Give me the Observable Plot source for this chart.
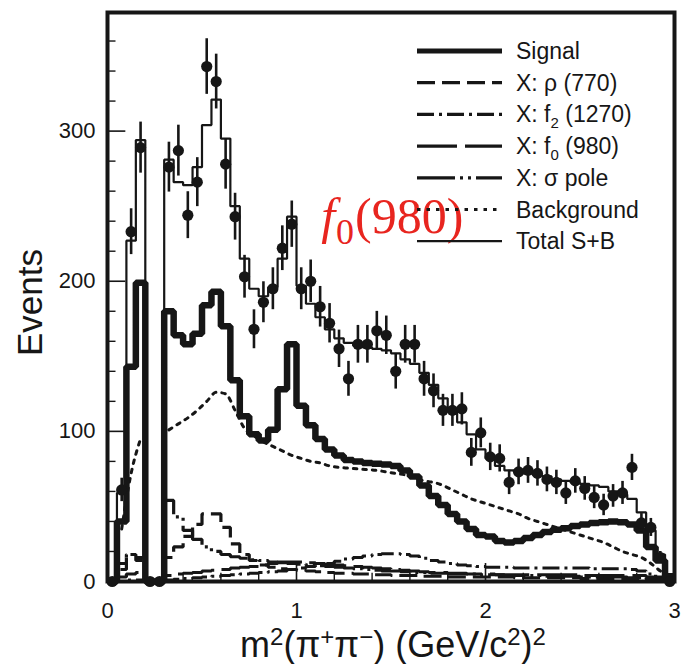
<!DOCTYPE html>
<html>
<head>
<meta charset="utf-8">
<script src="https://cdn.jsdelivr.net/npm/d3@7"></script>
<script src="https://cdn.jsdelivr.net/npm/@observablehq/plot@0.6"></script>
<style>
  html, body { margin: 0; padding: 0; background: #fff; }
</style>
</head>
<body>
<div id="chart"></div>
<script>
// m²(π+π−) histogram: 60 bins of 0.05 GeV² from 0 to 3
const binWidth = 0.05;
const nBins = 60;

// Observed events per bin
const events = [
  0, 61, 233, 289, 0, 0, 276, 287, 244, 266,
  343, 333, 278, 243, 203, 168, 186, 195, 222, 238,
  195, 200, 183, 172, 155, 135, 158, 158, 167, 164,
  140, 158, 158, 135, 127, 114, 114, 115, 86, 99,
  83, 82, 66, 73, 74, 72, 68, 66, 59, 67,
  62, 56, 51, 57, 59, 76, 39, 36, 16, 0
];

// Fit: total signal + background
const total = [
  0, 59, 227, 294, 0, 0, 281, 266, 264, 276,
  304, 321, 295, 250, 215, 195, 190, 196, 215, 243,
  197, 185, 176, 168, 162, 159, 157, 156, 155, 154,
  152, 148, 145, 139, 131, 122, 114, 106, 98, 88,
  82, 77, 74, 73, 72, 71, 70, 68, 67, 66,
  65, 64, 63, 60, 58, 55, 46, 34, 18, 5
];

// Fit: signal
const signal = [
  0, 40, 143, 199, 0, 0, 180, 164, 158, 165,
  184, 193, 170, 134, 110, 98, 94, 101, 128, 158,
  117, 104, 95, 88, 84, 81, 80, 79, 78.5, 78,
  77, 74, 70, 64, 57, 51, 45, 40, 35, 31,
  30, 27, 26, 27, 29, 31, 33, 34.5, 35.5, 37,
  38, 39, 39.5, 40, 39.5, 38, 34, 23, 14, 3
];

// Fit: background (smooth curve, gaps where there is no acceptance)
const background = [
  null, 35, 72, 95, null, null, 101, 105, 109, 114,
  120, 126, 125, 114, 102, 97, 93, 90, 87, 84,
  82, 80, 79, 77, 76, 75.5, 75, 74.5, 74, 73,
  72, 71, 69, 67, 66, 64, 61, 58, 55, 53,
  51, 49, 47, 45, 42, 40, 38, 36, 34, 32,
  30, 28, 26, 23, 20, 18, 16, 12, 7, 3
];

// Signal components
const rho770 = [
  0, 8, 18, 14, 0, 0, 16, 23, 30, 38,
  45, 45, 36, 25, 18, 14, 11, 9.5, 8.5, 8,
  7.5, 7, 6.5, 6, 5.5, 5.5, 5, 5, 4.5, 4.5,
  4, 4, 4, 3.5, 3.5, 3.5, 3, 3, 3, 3,
  3, 3, 3, 2.5, 2.5, 2.5, 2.5, 2.5, 2.5, 2.5,
  2, 2, 2, 2, 2, 2, 2, 1.5, 1, 0.5
];
const f21270 = [
  0, 0, 1, 1, 0, 0, 1, 1.5, 2, 2.5,
  3, 3.5, 4, 4.5, 5, 5.5, 6, 6.5, 7, 8,
  9, 10, 11, 12, 13.5, 15, 16, 17, 18, 18.5,
  18.5, 18, 17, 15.5, 14, 13, 12, 11, 10.5, 10,
  9.5, 9.5, 9.5, 9, 9, 9, 9, 9, 9, 9,
  9, 8.5, 8.5, 8.5, 8.5, 8, 7, 5, 3, 1
];
const f0980 = [
  0, 3, 5, 6, 0, 0, 4, 5, 5.5, 6,
  7, 7.5, 8, 9, 9.5, 10, 11, 12, 13, 13,
  13, 12.5, 12, 11.5, 11, 10.5, 10, 9.5, 9, 8.5,
  8, 7.5, 7, 6.5, 6, 6, 5.5, 5.5, 5, 5,
  5, 4.5, 4.5, 4.5, 4.5, 4.5, 4.5, 4.5, 4.5, 4.5,
  4, 4, 4, 4, 4, 4, 4, 3, 2, 1
];
const sigmaPole = [
  0, 12, 18, 16, 0, 0, 54, 43, 34, 28,
  23, 20, 18, 16.5, 15.5, 14.5, 14, 13, 12.5, 12,
  11.5, 11, 10.5, 10, 9.5, 9, 8.5, 8, 7.5, 7,
  7, 6.5, 6, 6, 5.5, 5.5, 5, 5, 5, 4.5,
  4.5, 4.5, 4, 4, 4, 4, 3.5, 3.5, 3.5, 3.5,
  3, 3, 3, 3, 3, 2.5, 2.5, 2, 1.5, 1
];

// Axis ticks
const yMajor = [100, 200, 300];
const yMinor = [20, 40, 60, 80, 120, 140, 160, 180, 220, 240, 260, 280, 320, 340, 360];
const yLabels = [0, 100, 200, 300];
const xMajor = [1, 2];
const xMinor = [0.2, 0.4, 0.6, 0.8, 1.2, 1.4, 1.6, 1.8, 2.2, 2.4, 2.6, 2.8];
const xLabels = [0, 1, 2, 3];

const ink = "#161616";
const red = "#e8251f";
const sans = "'Liberation Sans', Arial, Helvetica, sans-serif";
const serif = "'Liberation Serif', 'Times New Roman', serif";

// Line styles shared by the plot and its legend
const styles = {
  signal:     {strokeWidth: 6.5, dash: null},
  rho:        {strokeWidth: 3.2, dash: "18,7"},
  f2:         {strokeWidth: 3.2, dash: "17,5,3,5"},
  f0:         {strokeWidth: 3.2, dash: "40,8"},
  sigma:      {strokeWidth: 3.2, dash: "38,5,3,5,3,5"},
  background: {strokeWidth: 3,   dash: "3.5,6"},
  total:      {strokeWidth: 2.2, dash: null}
};

// Turn per-bin values into the corners of a step outline
function steps(vals) {
  const pts = [];
  vals.forEach((v, i) => {
    const lo = i * binWidth, hi = (i + 1) * binWidth;
    pts.push({x: lo, y: v ?? 0}, {x: hi, y: v ?? 0});
  });
  return pts;
}
const centers = d3.range(nBins).map(i => (i + 0.5) * binWidth);
const bgPoints = centers.map((c, i) => ({x: c, y: background[i]}));
const points = centers.map((c, i) => ({x: c, n: events[i], err: Math.sqrt(events[i])}));

function stepLine(vals, s) {
  return Plot.line(steps(vals), {
    x: "x", y: "y", stroke: ink, strokeWidth: s.strokeWidth,
    strokeDasharray: s.dash ?? undefined, strokeLinejoin: "miter", strokeLinecap: "butt"
  });
}

// Red label for the f0(980) peak
function f0Label(index, {x, y}) {
  const g = d3.create("svg:g");
  const t = g.append("text")
    .attr("x", x(1.133)).attr("y", y(232)).attr("text-anchor", "start")
    .attr("fill", red).attr("font-family", serif).attr("font-size", 50);
  t.append("tspan").attr("font-style", "italic").text("f");
  t.append("tspan").attr("font-size", 36).attr("dy", 11).attr("dx", 1).text("0");
  t.append("tspan").attr("dy", -11).attr("dx", 1).text("(980)");
  return g.node();
}

// Legend in the upper right of the frame
const legendRows = [
  {key: "signal", parts: [["Signal"]]},
  {key: "rho", parts: [["X: ρ (770)"]]},
  {key: "f2", parts: [["X: f"], ["2", "sub"], [" (1270)"]]},
  {key: "f0", parts: [["X: f"], ["0", "sub"], [" (980)"]]},
  {key: "sigma", parts: [["X: σ pole"]]},
  {key: "background", parts: [["Background"]]},
  {key: "total", parts: [["Total S+B"]]}
];
function legend(index, scales, values, dims) {
  const g = d3.create("svg:g");
  const right = dims.width - dims.marginRight;
  const x0 = right - 257, x1 = right - 172, tx = right - 158;
  const top = dims.marginTop + 39, step = 31.7;
  legendRows.forEach((row, i) => {
    const s = styles[row.key];
    const yy = top + i * step;
    g.append("line")
      .attr("x1", x0).attr("x2", x1).attr("y1", yy).attr("y2", yy)
      .attr("stroke", ink).attr("stroke-width", row.key === "signal" ? 5 : s.strokeWidth)
      .attr("stroke-dasharray", s.dash);
    const t = g.append("text").attr("x", tx).attr("y", yy + 8).attr("text-anchor", "start")
      .attr("fill", ink).attr("font-family", sans).attr("font-size", 23);
    let shifted = false;
    row.parts.forEach(([txt, kind]) => {
      if (kind === "sub") {
        t.append("tspan").attr("font-size", 15).attr("dy", 6).text(txt);
        shifted = true;
      } else {
        const sp = t.append("tspan").text(txt);
        if (shifted) { sp.attr("dy", -6); shifted = false; }
      }
    });
  });
  return g.node();
}

// Axis titles
function titles(index, scales, values, dims) {
  const g = d3.create("svg:g").attr("fill", ink).attr("font-family", sans);
  g.append("text")
    .attr("transform", `translate(42, ${dims.marginTop + (dims.height - dims.marginTop - dims.marginBottom) / 2 + 6}) rotate(-90)`)
    .attr("text-anchor", "middle").attr("font-size", 35).text("Events");
  const t = g.append("text")
    .attr("x", 393).attr("y", dims.height - 7)
    .attr("text-anchor", "middle").attr("font-size", 36);
  const sup = (s) => { t.append("tspan").attr("font-size", 24).attr("dy", -12).text(s); };
  const base = (s) => { t.append("tspan").attr("font-size", 36).attr("dy", 12).text(s); };
  t.append("tspan").text("m");
  sup("2"); base("(π"); sup("+"); base("π"); sup("−"); base(") (GeV/c"); sup("2"); base(")"); sup("2");
  return g.node();
}

const chart = Plot.plot({
  width: 681,
  height: 664,
  marginLeft: 107,
  marginRight: 7,
  marginTop: 12,
  marginBottom: 83,
  x: {domain: [0, 3]},
  y: {domain: [0, 379]},
  style: {background: "#fff", color: ink, fontFamily: sans, overflow: "visible"},
  marks: [
    stepLine(rho770, styles.rho),
    stepLine(f21270, styles.f2),
    stepLine(f0980, styles.f0),
    stepLine(sigmaPole, styles.sigma),
    Plot.line(bgPoints, {
      x: "x", y: "y", stroke: ink, strokeWidth: styles.background.strokeWidth,
      strokeDasharray: styles.background.dash, curve: "monotone-x"
    }),
    stepLine(total, styles.total),
    stepLine(signal, styles.signal),
    Plot.ruleX(points.filter(d => d.n > 0), {
      x: "x", y1: d => d.n - d.err, y2: d => d.n + d.err, stroke: ink, strokeWidth: 2.6
    }),
    Plot.dot(points, {x: "x", y: "n", r: 5.6, fill: ink, stroke: "none"}),
    // inward ticks
    Plot.ruleY(yMinor, {y: d => d, x1: 0, x2: 0.045, stroke: ink, strokeWidth: 1.4}),
    Plot.ruleY(yMajor, {y: d => d, x1: 0, x2: 0.097, stroke: ink, strokeWidth: 1.6}),
    Plot.ruleX(xMinor, {x: d => d, y1: 0, y2: 5.5, stroke: ink, strokeWidth: 1.4}),
    Plot.ruleX(xMajor, {x: d => d, y1: 0, y2: 12, stroke: ink, strokeWidth: 1.6}),
    Plot.frame({stroke: ink, strokeWidth: 4}),
    Plot.axisY(yLabels, {tickSize: 0, tickPadding: 12, fontSize: 22, label: null, tickFormat: d => String(d)}),
    Plot.axisX(xLabels, {tickSize: 0, tickPadding: 21, fontSize: 22, label: null, tickFormat: d => String(d)}),
    f0Label,
    legend,
    titles
  ]
});
document.getElementById("chart").appendChild(chart);
</script>
</body>
</html>
